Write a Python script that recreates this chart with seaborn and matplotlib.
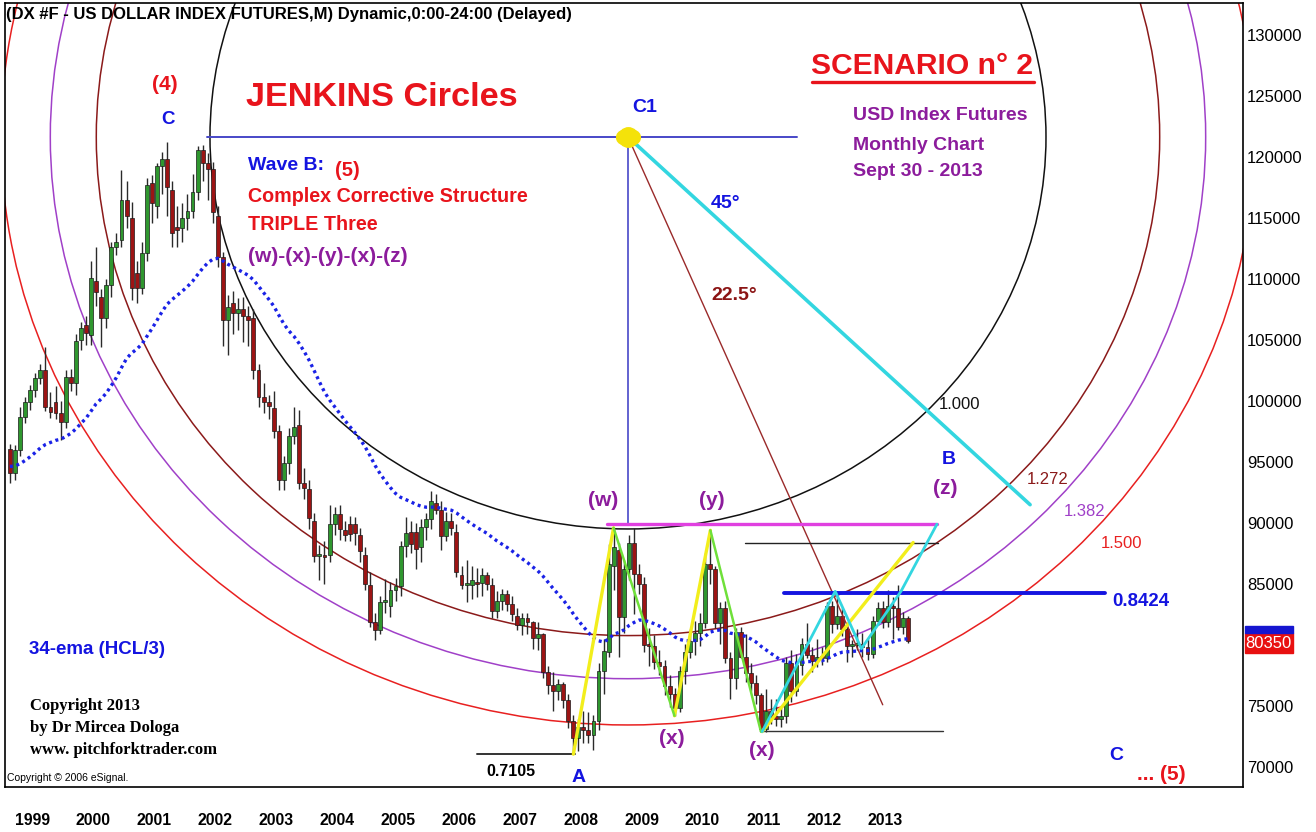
import numpy as np
import pandas as pd
import matplotlib
matplotlib.use("Agg")
import matplotlib.pyplot as plt
import seaborn as sns
from matplotlib.patches import Ellipse, Rectangle
from matplotlib.lines import Line2D
import matplotlib.transforms as mtrans

# ------------------------------------------------------------------ data
months = pd.date_range("1998-12-01", "2013-09-01", freq="MS")

opens = [96.1,
         94.1, 96.0, 98.7, 99.9, 100.9, 101.9, 102.5, 99.5, 99.9, 99.0, 98.3, 102.0,
         101.5, 105.0, 106.2, 105.4, 109.8, 108.5, 106.8, 109.5, 112.6, 113.2, 116.5, 115.0,
         110.5, 109.3, 112.1, 117.9, 116.0, 119.3, 119.8, 117.3, 114.3, 114.2, 115.0, 115.6,
         117.1, 120.6, 119.5, 119.0, 115.2, 111.8, 106.6, 108.0, 107.2, 107.5, 107.0, 106.8,
         102.5, 100.3, 99.9, 99.4, 97.5, 93.5, 94.9, 97.1, 98.0, 93.3, 92.8, 90.2,
         87.3, 87.4, 87.4, 89.9, 90.7, 89.4, 89.9, 89.9, 89.0, 87.4, 84.9, 81.9,
         81.2, 83.5, 83.2, 84.5, 84.8, 88.1, 89.3, 89.3, 88.0, 89.7, 90.3, 91.6,
         91.1, 88.9, 90.2, 89.3, 85.7, 84.9, 84.9, 85.2, 85.1, 85.7, 84.9, 82.8,
         83.6, 84.2, 83.4, 82.4, 81.6, 82.2, 81.9, 80.6, 80.9, 77.8, 76.7, 76.2,
         76.8, 75.5, 73.8, 72.4, 73.3, 73.0, 72.6, 73.8, 77.9, 79.4, 86.5, 87.8,
         82.3, 86.2, 88.4, 85.8, 85.0, 80.0, 79.9, 78.6, 78.3, 76.6, 76.0, 74.8,
         77.9, 79.4, 80.3, 81.0, 81.8, 86.6, 86.2, 81.8, 83.0, 78.9, 77.3, 81.1,
         79.0, 77.7, 76.9, 75.9, 73.1, 74.6, 74.2, 73.9, 74.2, 78.5, 76.2, 78.4,
         80.1, 79.2, 78.7, 79.0, 78.9, 83.2, 81.7, 82.4, 81.3, 79.9, 80.0, 80.1,
         79.8, 79.3, 82.0, 83.0, 81.9, 83.2, 83.0, 81.5, 82.2]

highs = [96.5,
         96.4, 99.5, 100.3, 101.3, 102.3, 103.0, 104.4, 100.7, 101.2, 100.0, 102.5, 102.6,
         105.5, 106.5, 107.0, 111.5, 112.6, 109.2, 110.0, 113.0, 113.8, 118.9, 118.0, 116.3,
         111.5, 113.0, 118.3, 118.5, 119.5, 120.4, 121.2, 118.0, 116.0, 116.2, 117.0, 118.6,
         120.9, 121.0, 120.3, 119.6, 116.0, 112.2, 108.7, 109.0, 108.4, 108.5, 107.8, 107.5,
         103.0, 101.5, 100.5, 100.8, 98.0, 95.5, 97.8, 99.5, 99.3, 94.5, 93.5, 90.8,
         88.2, 88.5, 91.5, 91.3, 91.5, 90.2, 90.6, 90.5, 89.6, 88.0, 86.0, 82.6,
         84.0, 85.4, 85.2, 85.5, 88.5, 90.5, 90.2, 90.0, 90.3, 90.8, 92.6, 92.4,
         91.8, 90.9, 90.8, 89.9, 86.5, 87.0, 86.5, 86.3, 86.3, 86.0, 85.5, 84.4,
         84.6, 84.5, 84.0, 83.0, 82.6, 82.6, 82.0, 81.9, 81.0, 78.3, 77.8, 77.2,
         77.0, 76.0, 74.3, 73.9, 74.6, 74.5, 74.3, 78.5, 80.5, 88.3, 89.6, 88.4,
         87.0, 89.0, 89.6, 86.6, 85.6, 81.4, 80.8, 79.6, 78.8, 77.5, 76.5, 78.3,
         80.1, 81.3, 82.0, 82.6, 87.5, 89.4, 86.5, 83.5, 83.6, 79.4, 81.4, 81.5,
         80.9, 78.5, 77.5, 76.1, 76.4, 75.6, 75.6, 75.0, 79.0, 79.6, 79.3, 80.6,
         81.8, 79.8, 80.5, 79.8, 83.5, 83.6, 84.4, 83.0, 81.8, 80.4, 81.3, 81.0,
         80.5, 82.4, 83.5, 83.6, 84.5, 83.9, 84.9, 82.7, 82.4]

lows = [93.3,
        93.5, 95.5, 98.2, 99.3, 100.3, 101.4, 99.2, 98.6, 98.5, 96.8, 97.8, 100.8,
        100.5, 104.2, 104.6, 104.6, 107.8, 104.4, 106.0, 108.5, 112.0, 112.6, 114.2, 108.3,
        108.0, 108.8, 111.5, 114.6, 115.0, 117.0, 115.2, 112.6, 112.6, 113.0, 114.0, 115.0,
        116.5, 118.0, 116.5, 114.6, 111.0, 104.5, 103.8, 105.5, 105.8, 104.8, 104.5, 101.8,
        99.5, 99.0, 98.5, 97.0, 92.7, 92.7, 94.0, 96.5, 92.8, 92.0, 89.5, 86.8,
        85.3, 85.0, 86.8, 89.0, 88.6, 88.5, 88.5, 88.2, 86.8, 84.5, 81.5, 80.4,
        80.9, 82.6, 82.3, 83.6, 84.0, 87.2, 87.5, 86.2, 86.8, 88.6, 89.5, 90.7,
        87.8, 88.5, 89.0, 85.6, 84.6, 83.5, 83.8, 83.9, 84.0, 84.5, 82.2, 82.2,
        82.9, 82.8, 82.0, 81.2, 80.8, 80.9, 79.7, 79.6, 77.3, 76.0, 74.6, 75.5,
        74.8, 73.2, 71.05, 71.3, 72.0, 72.0, 71.4, 73.0, 76.0, 79.0, 84.5, 79.0,
        81.0, 85.3, 82.5, 84.2, 79.4, 78.3, 78.0, 77.5, 75.9, 74.9, 74.2, 74.5,
        76.8, 78.9, 79.2, 79.9, 81.4, 85.0, 81.4, 80.1, 78.5, 75.6, 76.4, 78.9,
        77.0, 76.2, 75.2, 72.9, 72.9, 73.5, 73.4, 73.3, 73.6, 75.3, 75.8, 77.5,
        78.9, 77.8, 78.2, 78.4, 78.6, 81.0, 81.3, 80.7, 78.6, 79.0, 79.6, 79.0,
        78.8, 78.9, 81.6, 81.4, 81.5, 80.5, 81.2, 80.9, 80.2]

closes = [94.1,
          96.0, 98.7, 99.9, 100.9, 101.9, 102.5, 99.5, 99.1, 99.0, 98.3, 102.0, 101.5,
          104.9, 106.0, 105.6, 110.1, 108.9, 106.8, 109.5, 112.6, 113.0, 116.5, 115.2, 109.3,
          109.3, 112.1, 117.7, 116.2, 119.3, 119.8, 117.5, 113.8, 114.0, 115.0, 115.6, 117.1,
          120.6, 119.5, 119.0, 115.5, 111.8, 106.6, 107.7, 107.2, 107.5, 107.0, 106.6, 102.5,
          100.3, 99.9, 99.6, 97.5, 93.5, 94.9, 97.1, 97.9, 93.3, 92.9, 90.4, 87.3,
          87.4, 87.2, 89.9, 90.7, 89.5, 89.0, 89.1, 89.2, 87.7, 85.0, 81.9, 81.2,
          83.5, 83.7, 84.5, 84.8, 88.1, 89.2, 88.3, 87.9, 89.7, 90.3, 91.8, 91.1,
          88.9, 90.2, 89.6, 86.0, 84.9, 85.1, 85.3, 85.0, 85.7, 85.0, 82.8, 83.6,
          84.2, 83.4, 82.5, 81.6, 82.2, 81.9, 80.6, 80.9, 77.8, 76.7, 76.2, 76.8,
          75.5, 73.8, 72.4, 73.3, 73.0, 72.6, 73.8, 77.9, 79.5, 86.6, 88.0, 82.3,
          86.2, 88.4, 85.8, 85.0, 80.0, 79.9, 78.6, 78.3, 76.6, 76.0, 74.8, 77.9,
          79.4, 80.3, 81.0, 81.8, 86.6, 86.2, 81.8, 83.0, 78.9, 77.3, 81.1, 79.0,
          77.7, 76.9, 75.9, 73.1, 74.6, 74.2, 73.9, 74.2, 78.5, 76.2, 78.4, 80.1,
          79.2, 78.7, 79.0, 78.9, 83.2, 81.7, 82.4, 81.3, 79.9, 80.0, 80.1, 79.8,
          79.3, 82.0, 83.0, 81.9, 83.2, 83.0, 81.5, 82.2, 80.35]

year_labels = [str(y) for y in range(1999, 2014)]
price_ticks = [70, 75, 85, 90, 95, 100, 105, 110, 115, 120, 125, 130]
last_price = 80.35
ema_span = 34

# Jenkins circles (centre C1 and unit radii in years / index points)
c1_date, c1_price = 2009.067, 121.64
circle_ratios = [1.000, 1.272, 1.382, 1.500]
circle_labels = ["1.000", "1.272", "1.382", "1.500"]
radius_years, radius_points = 6.864, 32.13

# wave zigzags (decimal year, price)
yellow_legs = [([2008.17, 2008.83], [71.05, 89.6]),
               ([2009.83, 2010.42], [74.2, 89.4]),
               ([2011.27, 2013.75], [72.9, 88.4])]
green_legs = [([2008.83, 2009.83], [89.6, 74.2]),
              ([2010.42, 2011.25], [89.4, 72.9])]
cyan_path_t = [2011.27, 2012.47, 2012.90, 2013.55, 2014.14]
cyan_path_v = [72.9, 84.4, 79.7, 84.4, 89.9]

# horizontal levels: (price, start, end)
level_magenta = (89.9, 2008.72, 2014.14)
level_black_hi = (88.4, 2010.99, 2014.16)
level_blue = (84.24, 2011.63, 2016.90)
level_black_lo = (72.95, 2011.24, 2014.24)
level_a = (71.05, 2006.59, 2008.20)
c1_hline = (2002.15, 2011.84)
c1_vline_bottom = 89.9
line_45_end = (2015.67, 91.5)
line_22_end = (2013.25, 75.1)

# ------------------------------------------------------------------ style
sns.set_theme(style="white")
plt.rcParams['font.family'] = ['Liberation Sans', 'DejaVu Sans']

W, H = 1316, 832
fig = plt.figure(figsize=(W / 100, H / 100), dpi=100)
fig.patch.set_facecolor("white")
ax = fig.add_axes([5 / W, 45 / H, 1238 / W, 784 / H])
ax.set_facecolor("white")

t = np.asarray(months.year + (months.month - 1) / 12.0, dtype=float)
o = np.array(opens); h = np.array(highs); l = np.array(lows); c = np.array(closes)

RED = "#e8141c"
BLUE = "#1414e0"
PURPLE = "#8c1c9c"

# circles
circle_colors = ["#111111", "#8b1a1a", "#a040c8", "#e82020"]
for r, col in zip(circle_ratios, circle_colors):
    ax.add_patch(Ellipse((c1_date, c1_price), 2 * radius_years * r, 2 * radius_points * r,
                         fill=False, edgecolor=col, lw=1.1, zorder=1))

# candles
up = c >= o
body_col = np.where(up, "#2f972f", "#9c1414")
ax.vlines(t, l, h, color="#2a2a2a", lw=1.0, zorder=2)
bottoms = np.minimum(o, c)
heights = np.maximum(np.abs(c - o), 0.18)
ax.bar(t, heights, bottom=bottoms, width=0.064, color=body_col,
       edgecolor="#1a1a1a", linewidth=0.5, zorder=3)

# 34-ema of (H+C+L)/3
typ = (h + c + l) / 3.0
ema = pd.Series(typ).ewm(span=ema_span, adjust=False).mean().values
sns.lineplot(x=t, y=ema, ax=ax, color="#1a22e6", linewidth=2.4,
             linestyle=(0, (0.9, 1.1)), zorder=4, legend=False)

# C1 construction lines
ax.plot([c1_hline[0], c1_hline[1]], [c1_price, c1_price], color="#4848c8", lw=1.4, zorder=4)
ax.plot([c1_date, c1_date], [c1_price, c1_vline_bottom], color="#4848c8", lw=1.2, zorder=4)
ax.plot([c1_date, line_22_end[0]], [c1_price, line_22_end[1]], color="#9a2a2a", lw=1.0, zorder=4)
ax.plot([c1_date, line_45_end[0]], [c1_price, line_45_end[1]], color="#33d6e0", lw=2.6, zorder=5)

# levels
ax.plot(level_magenta[1:], [level_magenta[0]] * 2, color="#e040e0", lw=2.4, zorder=5)
ax.plot(level_black_hi[1:], [level_black_hi[0]] * 2, color="#222222", lw=1.0, zorder=5)
ax.plot(level_blue[1:], [level_blue[0]] * 2, color="#1414e0", lw=2.8, zorder=5)
ax.plot(level_black_lo[1:], [level_black_lo[0]] * 2, color="#333333", lw=1.0, zorder=5)
ax.plot(level_a[1:], [level_a[0]] * 2, color="#333333", lw=1.4, zorder=5)

# wave lines
for xs, ys in yellow_legs:
    ax.plot(xs, ys, color="#f2ee1c", lw=2.4, zorder=6)
for xs, ys in green_legs:
    ax.plot(xs, ys, color="#6fe03a", lw=1.8, zorder=6)
ax.plot(cyan_path_t, cyan_path_v, color="#33d6e0", lw=2.0, zorder=6)

# C1 marker
ax.plot([c1_date], [c1_price], marker="o", ms=14, mfc="#f4e20a", mec="#f4e20a", zorder=7)
ax.plot([c1_date - 0.09, c1_date + 0.09], [c1_price, c1_price], color="#f4e20a",
        lw=11, solid_capstyle="round", zorder=7)

# axes
ax.set_xlim(1998.837, 2019.166)
ax.set_ylim(68.36, 132.62)
ax.yaxis.tick_right()
ax.set_yticks(price_ticks)
ax.set_yticklabels([f"{int(round(p * 1000))}" for p in price_ticks])
ax.set_xticks([int(y) + 0.29 for y in year_labels])
ax.set_xticklabels(year_labels)
ax.tick_params(axis="y", length=0, pad=3, labelsize=12, labelcolor="black")
ax.tick_params(axis="x", length=0, pad=19, labelsize=11.3, labelcolor="black")
for lab in ax.get_xticklabels():
    lab.set_fontweight("bold")
for sp in ax.spines.values():
    sp.set_color("black")
    sp.set_linewidth(1.2)
ax.grid(False)

# last price box on the scale
trans = mtrans.blended_transform_factory(ax.transAxes, ax.transData)
bw = 48 / 1238
ax.add_patch(Rectangle((1.0015, 79.34), bw, 1.64, transform=trans, color="#e81010",
                       clip_on=False, zorder=8))
ax.add_patch(Rectangle((1.0015, 80.98), bw, 0.55, transform=trans, color="#1515d0",
                       clip_on=False, zorder=8))
ax.text(1.0015 + bw / 2, 80.16, f"{int(round(last_price * 1000))}", transform=trans,
        color="white", fontsize=12, ha="center", va="center", zorder=9, clip_on=False)


# ------------------------------------------------------------------ texts
def T(x, y, s, color="black", size=14, weight="bold", ha="center", va="center", **kw):
    fig.text(x / W, 1 - y / H, s, color=color, fontsize=size, fontweight=weight,
             ha=ha, va=va, zorder=10, **kw)


T(6, 15, "(DX #F - US DOLLAR INDEX FUTURES,M) Dynamic,0:00-24:00 (Delayed)", size=12, ha="left")
T(165, 85, "(4)", RED, 15)
T(168, 119, "C", BLUE, 13.5)
T(246, 98, "JENKINS Circles", RED, 24.7, ha="left")
T(248, 166, "Wave B:", BLUE, 14, ha="left")
T(335, 170, "(5)", RED, 14.5, ha="left")
T(248, 196, "Complex Corrective Structure", RED, 14.2, ha="left")
T(248, 225, "TRIPLE Three", RED, 14.2, ha="left")
T(248, 256, "(w)-(x)-(y)-(x)-(z)", PURPLE, 15, ha="left")
T(645, 107, "C1", BLUE, 14)
T(726, 204, "45°", BLUE, 14)
T(734, 296, "22.5°", "#8b1414", 14)
T(922, 66, "SCENARIO n° 2", RED, 21.6)
fig.add_artist(Line2D([812 / W, 1034 / W], [1 - 82 / H] * 2, color=RED, lw=2.4))
T(853, 116, "USD Index Futures", PURPLE, 14, ha="left")
T(853, 145, "Monthly Chart", PURPLE, 14, ha="left")
T(853, 172, "Sept 30 - 2013", PURPLE, 14, ha="left")

label_pos = [(960, 404), (1048, 480), (1085, 511), (1121, 544)]
label_col = ["#111111", "#8b1a1a", "#a040c8", "#e82020"]
for (x, y), s, col in zip(label_pos, circle_labels, label_col):
    T(x, y, s, col, 12, weight="normal")

T(949, 459, "B", BLUE, 14)
T(945, 489, "(z)", PURPLE, 15)
T(1141, 601, "0.8424", BLUE, 13.4)
T(603, 501, "(w)", PURPLE, 15)
T(712, 501, "(y)", PURPLE, 15)
T(672, 739, "(x)", PURPLE, 15)
T(762, 751, "(x)", PURPLE, 15)
T(579, 778, "A", BLUE, 14)
T(511, 771, "0.7105", "black", 11.5)
T(1116, 755, "C", BLUE, 14)
T(1161, 774, "... (5)", RED, 15)
T(29, 649, "34-ema (HCL/3)", BLUE, 13.5, ha="left")
T(30, 706, "Copyright 2013", "black", 12, ha="left", family=["Liberation Serif"])
T(30, 728, "by Dr Mircea Dologa", "black", 12, ha="left", family=["Liberation Serif"])
T(30, 750, "www. pitchforktrader.com", "black", 12, ha="left", family=["Liberation Serif"])
T(7, 778, "Copyright © 2006 eSignal.", "black", 7.5, weight="normal", ha="left")

fig.savefig("out.png", dpi=100, facecolor="white")
